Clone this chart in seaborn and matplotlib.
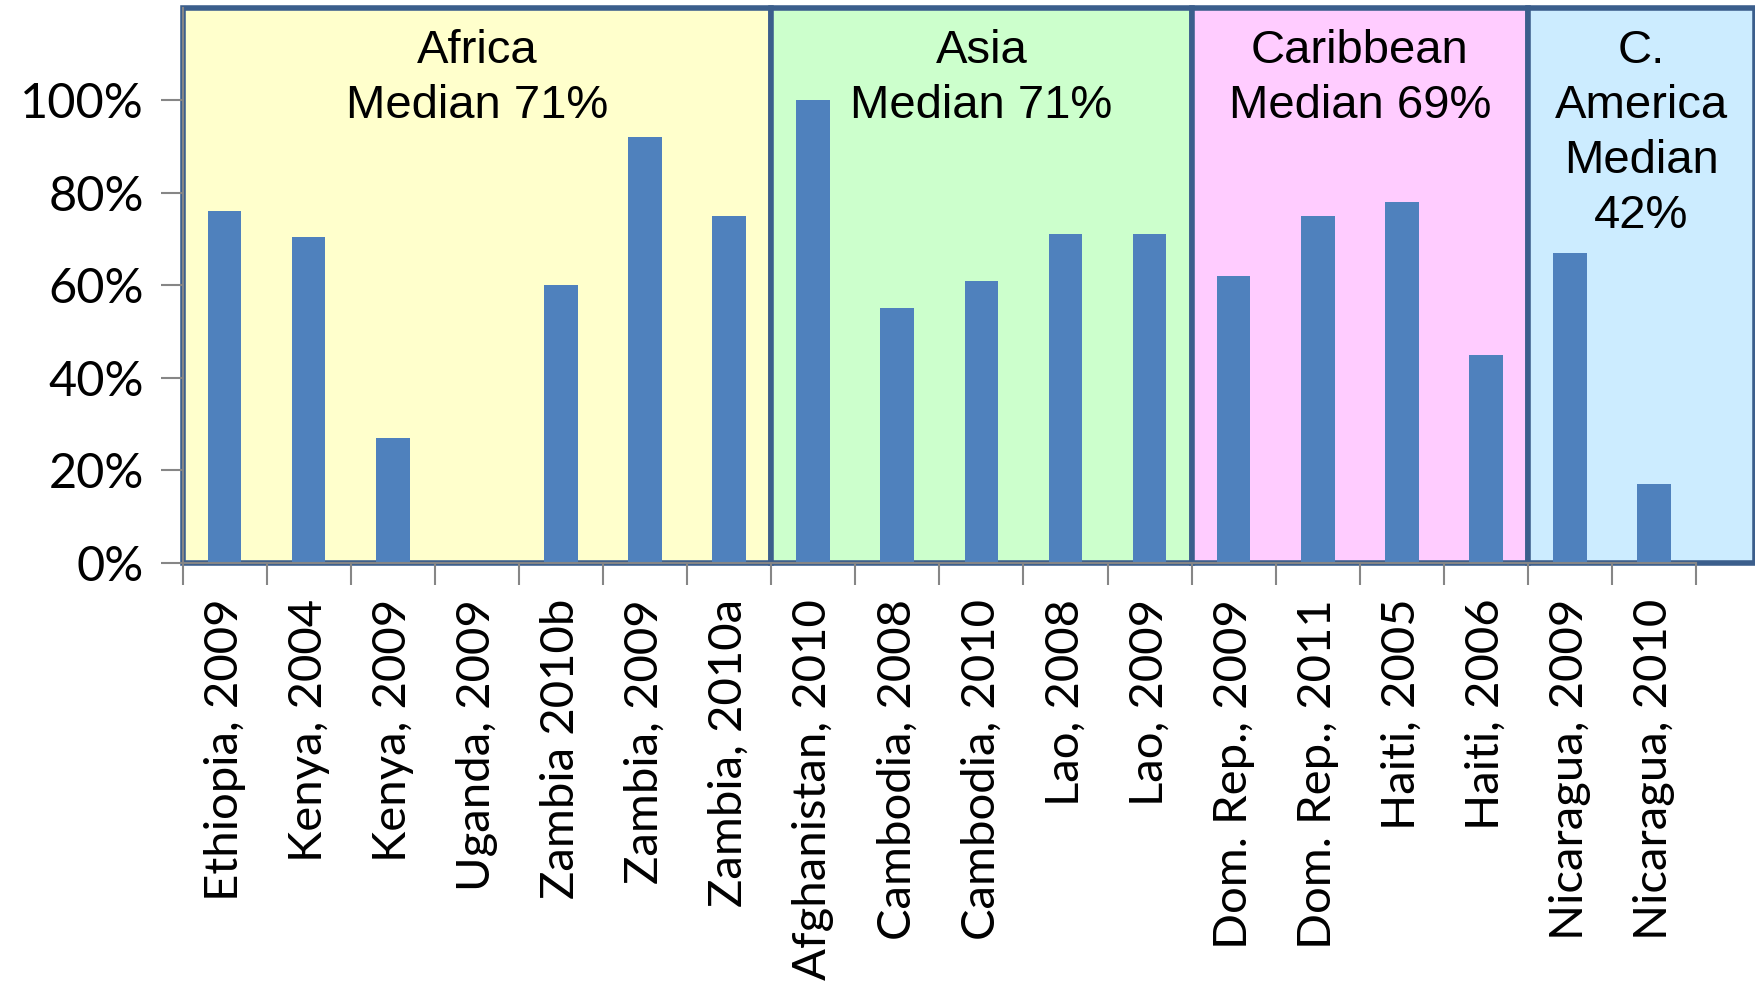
import numpy as np
import matplotlib
matplotlib.use('Agg')
import matplotlib.pyplot as plt
from matplotlib.patches import Rectangle
from matplotlib.ticker import PercentFormatter
import seaborn as sns

# Data
surveys = ['Ethiopia, 2009', 'Kenya, 2004', 'Kenya, 2009', 'Uganda, 2009',
           'Zambia 2010b', 'Zambia, 2009', 'Zambia, 2010a',
           'Afghanistan, 2010', 'Cambodia, 2008', 'Cambodia, 2010', 'Lao, 2008', 'Lao, 2009',
           'Dom. Rep., 2009', 'Dom. Rep., 2011', 'Haiti, 2005', 'Haiti, 2006',
           'Nicaragua, 2009', 'Nicaragua, 2010']
values = [0.76, 0.705, 0.27, 0.0, 0.60, 0.92, 0.75,
          1.00, 0.55, 0.61, 0.71, 0.71,
          0.62, 0.75, 0.78, 0.45,
          0.67, 0.17]
regions = ['Africa\nMedian 71%', 'Asia\nMedian 71%', 'Caribbean\nMedian 69%', 'C.\nAmerica\nMedian\n42%']
region_sizes = [7, 5, 4, 2]
region_colors = ['#FFFFCC', '#CCFFCC', '#FFCCFF', '#CCECFF']

sns.set_style('white')
plt.rcParams['font.family'] = ['Lato', 'DejaVu Sans']
plt.rcParams['text.color'] = 'black'
plt.rcParams['xtick.color'] = 'black'
plt.rcParams['ytick.color'] = 'black'

fig = plt.figure(figsize=(17.55, 9.89), dpi=100)
ax = fig.add_axes([0.104, 0.431, 0.896, 0.561])
ax.set_facecolor('none')

x_right = 18.2
ymax = 1.2
start = -0.5
for name, n, col in zip(regions, region_sizes, region_colors):
    end = start + n
    if name == regions[-1]:
        end = x_right
    ax.add_patch(Rectangle((start, 0), end - start, ymax, facecolor=col,
                           edgecolor='#3B5E8C', linewidth=4, zorder=0, clip_on=False))
    ax.text((start + end) / 2, ymax - 0.045, name, ha='center', va='top',
            fontsize=34, family='Liberation Sans', linespacing=1.33,
            color='black', zorder=3)
    start = end

sns.barplot(x=surveys, y=values, color='#4F81BD', saturation=1, width=0.4,
            linewidth=0, ax=ax, zorder=2)

ax.set_xlim(-0.5, x_right)
ax.set_ylim(0, ymax)
ax.set_yticks(np.arange(0, 1.01, 0.2))
ax.yaxis.set_major_formatter(PercentFormatter(1.0, decimals=0))
ax.tick_params(axis='y', labelsize=35, length=16, width=1.5, color='#868686',
               labelcolor='black', pad=12, left=True)
ax.set_xticks(range(len(surveys)))
ax.set_xticklabels(surveys, rotation=90, fontsize=34, color='black')
ax.tick_params(axis='x', which='major', length=0, pad=26)
ax.set_xticks(np.arange(-0.5, len(surveys), 1), minor=True)
ax.tick_params(axis='x', which='minor', length=16, width=1.5, color='#868686',
               bottom=True)
ax.set_xlabel('')
ax.set_ylabel('')

for s in ['top', 'right']:
    ax.spines[s].set_visible(False)
ax.spines['bottom'].set_bounds(-0.5, len(surveys) - 0.5)
for s in ['bottom', 'left']:
    ax.spines[s].set_color('#868686')
    ax.spines[s].set_linewidth(1.5)
    ax.spines[s].set_zorder(4)

fig.savefig('out.png', dpi=100)
